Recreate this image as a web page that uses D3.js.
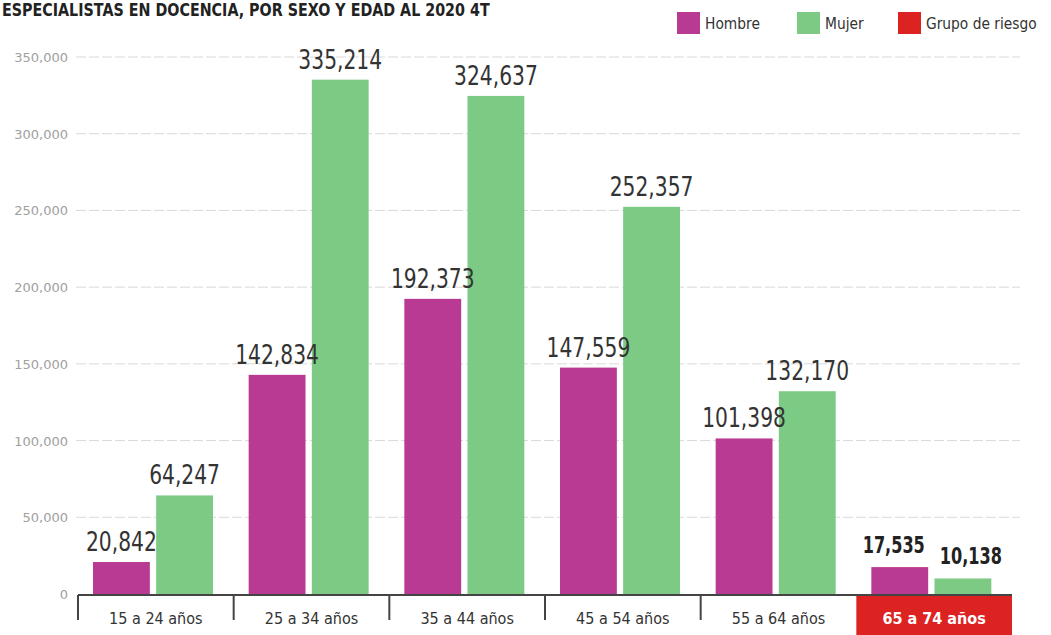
<!DOCTYPE html>
<html>
<head>
<meta charset="utf-8">
<script src="https://cdn.jsdelivr.net/npm/d3@7"></script>
<style>
  body { margin: 0; background: #fff; }
  svg { display: block; font-family: "DejaVu Sans", sans-serif; }
</style>
</head>
<body>
<svg width="1051" height="635"></svg>
<script>
const categories = ["15 a 24 años", "25 a 34 años", "35 a 44 años", "45 a 54 años", "55 a 64 años", "65 a 74 años"];
const series = ["Hombre", "Mujer"];
const hombre = [20842, 142834, 192373, 147559, 101398, 17535];
const mujer = [64247, 335214, 324637, 252357, 132170, 10138];
const yTicks = [0, 50000, 100000, 150000, 200000, 250000, 300000, 350000];
const riskGroup = "65 a 74 años";

const colors = {Hombre: "#b93a92", Mujer: "#7cca84", risk: "#dd2222"};

const svg = d3.select("svg");
const data = categories.map((c, i) => ({cat: c, Hombre: hombre[i], Mujer: mujer[i]}));

// no condensed face installed, so squeeze the glyphs horizontally
function condense(sel, k) {
    sel.each(function() {
        const w = this.getComputedTextLength();
        d3.select(this).attr("textLength", w * k).attr("lengthAdjust", "spacingAndGlyphs");
    });
}

const x = d3.scaleBand().domain(categories).range([78, 1012]).paddingInner(0).paddingOuter(0);
const xs = d3.scaleBand().domain(series).range([15, 135]).paddingInner(0.1);
const y = d3.scaleLinear().domain([0, 350000]).range([594, 57]);

// title
svg.append("text")
    .attr("x", 2).attr("y", 16)
    .attr("font-size", 17).attr("font-weight", "bold").attr("fill", "#222")
    .text("ESPECIALISTAS EN DOCENCIA, POR SEXO Y EDAD AL 2020 4T")
    .call(condense, 0.84);

// grid
svg.append("g").selectAll("line")
    .data(yTicks.filter(d => d > 0))
    .join("line")
    .attr("x1", 76).attr("x2", 1020)
    .attr("y1", d => y(d)).attr("y2", d => y(d))
    .attr("stroke", "#d9d9d9").attr("stroke-width", 1)
    .attr("stroke-dasharray", "10,3");

// y axis labels
svg.append("g").selectAll("text")
    .data(yTicks)
    .join("text")
    .attr("x", 68).attr("y", d => y(d) + 5)
    .attr("text-anchor", "end")
    .attr("font-size", 13).attr("fill", "#a0a0a0")
    .text(d => d3.format(",")(d));

// risk box
svg.append("rect")
    .attr("x", x(riskGroup)).attr("y", 595)
    .attr("width", x.bandwidth()).attr("height", 40)
    .attr("fill", colors.risk);

// bars
const groups = svg.append("g").selectAll("g")
    .data(data)
    .join("g")
    .attr("transform", d => `translate(${x(d.cat)},0)`);

groups.selectAll("rect")
    .data(d => series.map(s => ({s, v: d[s]})))
    .join("rect")
    .attr("x", d => xs(d.s))
    .attr("width", xs.bandwidth())
    .attr("y", d => y(d.v))
    .attr("height", d => y(0) - y(d.v))
    .attr("fill", d => colors[d.s]);

groups.selectAll("text.val")
    .data(d => series.map(s => ({s, v: d[s], risk: d.cat === riskGroup})))
    .join("text")
    .attr("class", "val")
    .attr("x", d => xs(d.s) + xs.bandwidth() / 2 + (d.risk ? (d.s === "Hombre" ? -6 : 8) : 0))
    .attr("y", d => y(d.v) - (d.risk ? 14 : 11))
    .attr("text-anchor", "middle")
    .attr("font-size", d => d.risk ? 23 : 27)
    .attr("font-weight", d => d.risk ? "bold" : "normal")
    .attr("fill", d => d.risk ? "#222" : "#333")
    .text(d => d3.format(",")(d.v))
    .each(function(d) {
        const w = this.getComputedTextLength();
        d3.select(this).attr("textLength", w * (d.risk ? 0.7 : 0.75)).attr("lengthAdjust", "spacingAndGlyphs");
    });

// x axis
svg.append("line")
    .attr("x1", 78).attr("x2", 1012)
    .attr("y1", 595).attr("y2", 595)
    .attr("stroke", "#444").attr("stroke-width", 2);

svg.append("g").selectAll("line")
    .data(categories.filter(c => c !== riskGroup))
    .join("line")
    .attr("x1", d => x(d)).attr("x2", d => x(d))
    .attr("y1", 595).attr("y2", 620)
    .attr("stroke", "#444").attr("stroke-width", 2);

svg.append("g").selectAll("text")
    .data(categories)
    .join("text")
    .attr("x", d => x(d) + x.bandwidth() / 2)
    .attr("y", 624)
    .attr("text-anchor", "middle")
    .attr("font-size", 16)
    .attr("font-weight", d => d === riskGroup ? "bold" : "normal")
    .attr("fill", d => d === riskGroup ? "#fff" : "#333")
    .text(d => d)
    .call(condense, 0.9);

// legend
const legendItems = [
    {label: "Hombre", color: colors.Hombre, x: 677},
    {label: "Mujer", color: colors.Mujer, x: 797},
    {label: "Grupo de riesgo", color: colors.risk, x: 898}
];
const lg = svg.append("g").selectAll("g")
    .data(legendItems)
    .join("g")
    .attr("transform", d => `translate(${d.x},12)`);
lg.append("rect").attr("width", 23).attr("height", 22).attr("fill", d => d.color);
lg.append("text").attr("x", 28).attr("y", 17)
    .attr("font-size", 15).attr("fill", "#333")
    .text(d => d.label)
    .call(condense, 0.92);
</script>
</body>
</html>
